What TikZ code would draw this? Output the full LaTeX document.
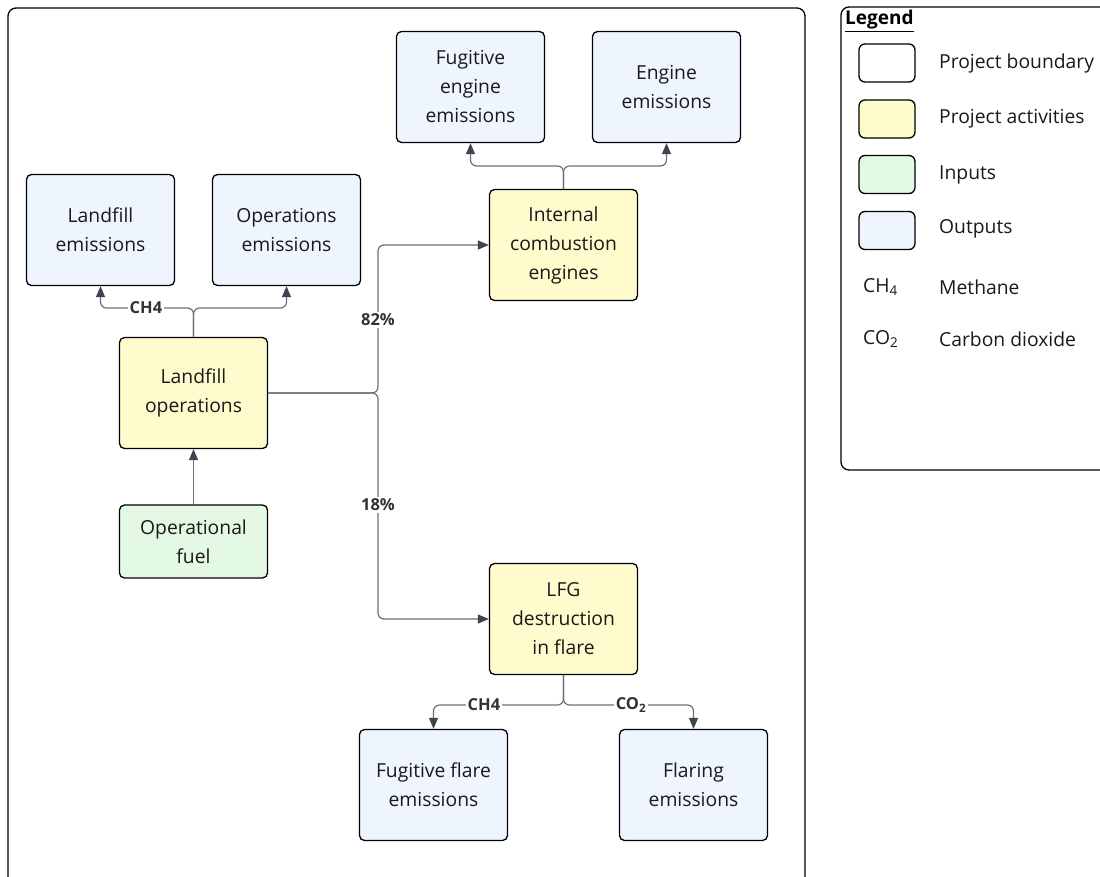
\documentclass[tikz,border=0pt]{standalone}
\usepackage{fontspec}
\setmainfont{Open Sans}
\usetikzlibrary{arrows.meta}
\definecolor{actyellow}{HTML}{FEFBCC}
\definecolor{ingreen}{HTML}{E3F9E3}
\definecolor{outblue}{HTML}{EEF5FF}
\definecolor{connline}{HTML}{6A717C}
\definecolor{conntip}{HTML}{3F4550}
\definecolor{labtext}{HTML}{333333}
\begin{document}
\begin{tikzpicture}[x=1pt,y=-1pt,
  box/.style={draw=black, line width=1.3pt, rounded corners=5pt, minimum width=148pt,
    align=center, font=\fontsize{19.3}{29}\selectfont, inner sep=0pt, text=black!90},
  outbox/.style={box, fill=outblue, minimum height=111pt},
  actbox/.style={box, fill=actyellow, minimum height=111pt},
  inbox/.style={box, fill=ingreen, minimum height=73pt},
  conn/.style={draw=connline, line width=1.2pt, rounded corners=6pt,
    -{Triangle[length=11pt,width=9pt,fill=conntip,color=conntip]}},
  elabel/.style={fill=white, inner sep=1.5pt, font=\bfseries\fontsize{16.5}{18}\selectfont, text=labtext},
  frame/.style={draw=black, line width=1.3pt, rounded corners=8pt},
  swatch/.style={draw=black, line width=1.3pt, rounded corners=6pt, minimum width=56pt, minimum height=38pt, inner sep=0pt},
  legtext/.style={anchor=west, font=\fontsize{19.3}{22}\selectfont, inner sep=0pt, text=black!90}
]
\useasboundingbox (0,0) rectangle (1100,876);
\clip (0,0) rectangle (1100,876);
\fill[white] (0,0) rectangle (1100,876);

% project boundary
\draw[frame] (8,8) rectangle (805,900);

% nodes
\node[outbox] (fe) at (470.5,87) {Fugitive\\engine\\emissions};
\node[outbox] (ee) at (666.5,87) {Engine\\emissions};
\node[outbox] (le) at (100.5,230) {Landfill\\emissions};
\node[outbox] (oe) at (286.5,230) {Operations\\emissions};
\node[actbox] (ice) at (563.5,245) {Internal\\combustion\\engines};
\node[actbox] (lo) at (193.5,393) {Landfill\\operations};
\node[inbox] (of) at (193.5,541.5) {Operational\\fuel};
\node[actbox] (lfg) at (563.5,619) {LFG\\destruction\\in flare};
\node[outbox] (ffe) at (433.5,785) {Fugitive flare\\emissions};
\node[outbox] (fle) at (693.5,785) {Flaring\\emissions};

% junctions
\coordinate (jlo) at (193.5,308);
\coordinate (jice) at (563.5,166);
\coordinate (jsplit) at (378,393);
\coordinate (jlfg) at (563.5,705);

% connectors
\draw[conn] (lo.north) -- (jlo) -| (le.south);
\draw[conn] (lo.north) -- (jlo) -| (oe.south);
\draw[conn] (ice.north) -- (jice) -| (fe.south);
\draw[conn] (ice.north) -- (jice) -| (ee.south);
\draw[conn] (lo.east) -- (jsplit) |- (ice.west);
\draw[conn] (lo.east) -- (jsplit) |- (lfg.west);
\draw[conn] (of.north) -- (lo.south);
\draw[conn] (lfg.south) -- (jlfg) -| (ffe.north);
\draw[conn] (lfg.south) -- (jlfg) -| (fle.north);

% edge labels
\node[elabel] (lch4a) at (146,308) {CH4};
\node[elabel] (l82) at (378,320) {82\%};
\node[elabel] (l18) at (378,505) {18\%};
\node[elabel] (lch4b) at (484,705) {CH4};
\node[elabel] (lco2) at (631,705) {CO\textsubscript{2}};

% legend
\draw[frame] (841,7) rectangle (1120,470);
\node[anchor=west, inner sep=0pt, font=\bfseries\fontsize{19}{22}\selectfont] (legtitle) at (845,21) {\underline{Legend}};
\node[swatch, fill=white] (s1) at (887,63) {};
\node[swatch, fill=actyellow] (s2) at (887,119) {};
\node[swatch, fill=ingreen] (s3) at (887,174.5) {};
\node[swatch, fill=outblue] (s4) at (887,230.5) {};
\node[legtext] (t1) at (939,63) {Project boundary};
\node[legtext] (t2) at (939,119) {Project activities};
\node[legtext] (t3) at (939,175) {Inputs};
\node[legtext] (t4) at (939,229) {Outputs};
\node[legtext] (c1) at (863,287) {CH\textsubscript{4}};
\node[legtext] (t5) at (939,287) {Methane};
\node[legtext] (c2) at (863,339) {CO\textsubscript{2}};
\node[legtext] (t6) at (939,339) {Carbon dioxide};
\end{tikzpicture}
\end{document}
